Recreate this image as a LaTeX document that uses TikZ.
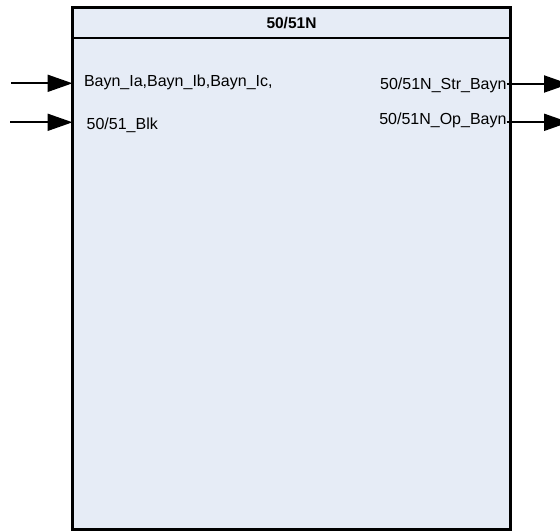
\documentclass[tikz,border=0pt]{standalone}
\usepackage{fontspec}
\setmainfont{Liberation Sans}
\usetikzlibrary{arrows.meta}
\definecolor{blockfill}{RGB}{230,236,246}
\tikzset{
  block/.style={draw=black, line width=3pt, fill=blockfill, inner sep=0pt, outer sep=0pt,
                minimum width=438pt, minimum height=522pt},
  sig/.style={line width=2pt, -{Triangle[length=25pt,width=17pt]}},
  portlabel/.style={inner sep=0pt, outer sep=0pt, font=\fontsize{16}{19}\selectfont},
  titlelabel/.style={inner sep=0pt, font=\bfseries\fontsize{15.5}{18}\selectfont}
}
\begin{document}
\begin{tikzpicture}[x=1pt,y=-1pt]
  \useasboundingbox (0,0) rectangle (560,532);
  % function block
  \node[block] (box) at (291.5,268.5) {};
  \coordinate (hl) at (72.5,37.7);
  \coordinate (hr) at (510.5,37.7);
  \draw[line width=2pt] (hl) -- (hr);
  \node[titlelabel, anchor=base] (title) at (291.5,28.3) {50/51N};
  % inputs
  \node[portlabel, anchor=base west] (inA) at (84,86.7) {Bayn\_Ia,Bayn\_Ib,Bayn\_Ic,};
  \node[portlabel, anchor=base west] (inB) at (86.7,129.2) {50/51\_Blk};
  \coordinate (src1) at (11,83.3);
  \coordinate (src2) at (10,122.3);
  \draw[sig] (src1) -- (src1 -| box.west);
  \draw[sig] (src2) -- (src2 -| box.west);
  % outputs
  \node[portlabel, anchor=base east] (outA) at (506.5,89.2) {50/51N\_Str\_Bayn};
  \node[portlabel, anchor=base east] (outB) at (506.5,124.7) {50/51N\_Op\_Bayn};
  \coordinate (dst1) at (569,84);
  \coordinate (dst2) at (569,122.3);
  \draw[sig] (dst1 -| outA.east) -- (dst1);
  \draw[sig] (dst2 -| outB.east) -- (dst2);
\end{tikzpicture}
\end{document}
